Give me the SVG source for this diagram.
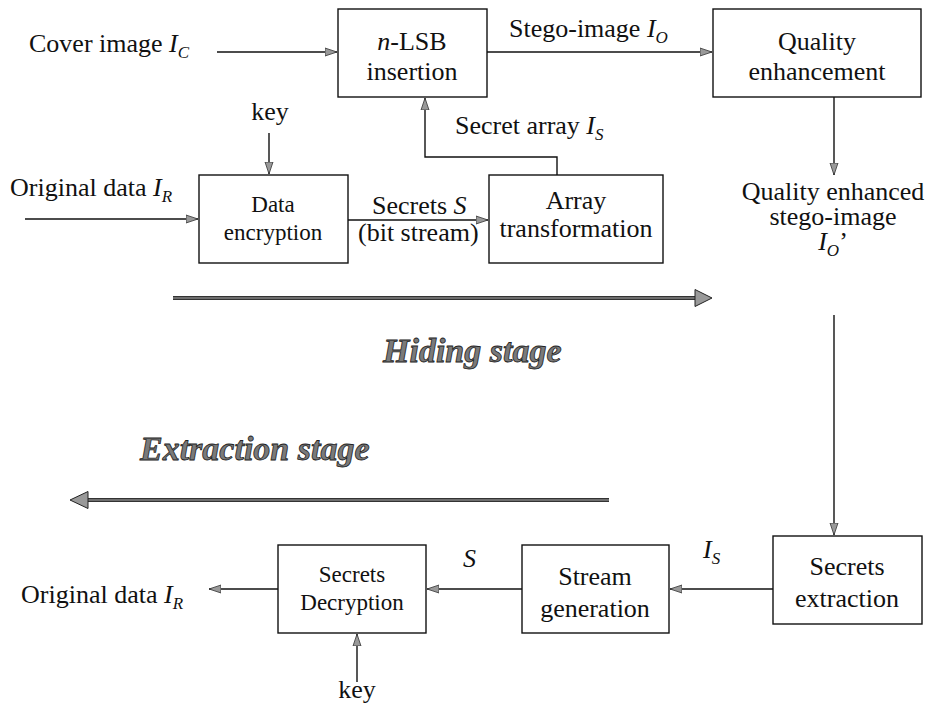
<svg xmlns="http://www.w3.org/2000/svg" width="928" height="706" viewBox="0 0 928 706">
<defs>
<style>
.t{font-family:"Liberation Serif","Times New Roman",serif;font-size:26px;fill:#111}
.sm{font-size:23px}
.it{font-style:italic}
.sub{font-size:17px;font-style:italic}
.stage{font-size:34px;font-weight:bold;font-style:italic;fill:#7a7a7a;stroke:#222;stroke-width:0.8}
.box{fill:#fff;stroke:#111;stroke-width:1.4}
.ln{fill:none;stroke:#111;stroke-width:1.4}
.big{fill:none;stroke:#333;stroke-width:4}
.bigin{fill:none;stroke:#aaa;stroke-width:1.2}
.bighead{fill:#999;stroke:#222;stroke-width:1}
</style>
<marker id="ah" viewBox="0 0 12 10" refX="12" refY="5" markerWidth="12" markerHeight="10" markerUnits="userSpaceOnUse" orient="auto">
<path d="M0,1 L12,5 L0,9 z" fill="#999" stroke="#333" stroke-width="0.8"/>
</marker>
</defs>
<rect width="928" height="706" fill="#fff"/>

<g id="connectors">
<path class="ln" d="M217,52 H337" marker-end="url(#ah)"/>
<path class="ln" d="M487,52 H712" marker-end="url(#ah)"/>
<path class="ln" d="M834,97 V175" marker-end="url(#ah)"/>
<path class="ln" d="M269,133 V174" marker-end="url(#ah)"/>
<path class="ln" d="M25,219 H198" marker-end="url(#ah)"/>
<path class="ln" d="M348,220 H488" marker-end="url(#ah)"/>
<path class="ln" d="M557,175 V157 H425 V98" marker-end="url(#ah)"/>
<path class="ln" d="M834,315 V535" marker-end="url(#ah)"/>
<path class="ln" d="M773,589 H670" marker-end="url(#ah)"/>
<path class="ln" d="M522,589 H427" marker-end="url(#ah)"/>
<path class="ln" d="M278,589 H209" marker-end="url(#ah)"/>
<path class="ln" d="M357,682 V634" marker-end="url(#ah)"/>
<path class="big" d="M173,298 H697"/>
<path class="bigin" d="M173,298 H697"/>
<polygon class="bighead" points="712,298 695,289.5 695,306.5"/>
<path class="big" d="M609,500 H86"/>
<path class="bigin" d="M609,500 H86"/>
<polygon class="bighead" points="70,500 88,491.5 88,508.5"/>
</g>

<g id="lsb">
<rect class="box" x="338" y="9" width="149" height="88"/>
<text class="t" x="412" y="50" text-anchor="middle"><tspan class="it">n</tspan>-LSB</text>
<text class="t" x="412" y="80" text-anchor="middle">insertion</text>
</g>
<g id="quality">
<rect class="box" x="713" y="9" width="208" height="88"/>
<text class="t" x="817" y="50" text-anchor="middle">Quality</text>
<text class="t" x="817" y="80" text-anchor="middle">enhancement</text>
</g>
<g id="encrypt">
<rect class="box" x="199" y="175" width="149" height="88"/>
<text class="t sm" x="273" y="212" text-anchor="middle">Data</text>
<text class="t sm" x="273" y="240" text-anchor="middle">encryption</text>
</g>
<g id="array">
<rect class="box" x="489" y="175" width="174" height="88"/>
<text class="t" x="576" y="209" text-anchor="middle">Array</text>
<text class="t" x="576" y="237" text-anchor="middle">transformation</text>
</g>
<g id="extract">
<rect class="box" x="773" y="536" width="149" height="88"/>
<text class="t" x="847" y="575" text-anchor="middle">Secrets</text>
<text class="t" x="847" y="607" text-anchor="middle">extraction</text>
</g>
<g id="stream">
<rect class="box" x="522" y="545" width="147" height="88"/>
<text class="t" x="595" y="585" text-anchor="middle">Stream</text>
<text class="t" x="595" y="617" text-anchor="middle">generation</text>
</g>
<g id="decrypt">
<rect class="box" x="278" y="545" width="148" height="88"/>
<text class="t sm" x="352" y="582" text-anchor="middle">Secrets</text>
<text class="t sm" x="352" y="610" text-anchor="middle">Decryption</text>
</g>

<g id="labels">
<text class="t" x="29" y="52">Cover image <tspan class="it">I</tspan><tspan class="sub" dy="6">C</tspan></text>
<text class="t" x="509" y="37">Stego-image <tspan class="it">I</tspan><tspan class="sub" dy="6">O</tspan></text>
<text class="t" x="270" y="120" text-anchor="middle">key</text>
<text class="t" x="455" y="134">Secret array <tspan class="it">I</tspan><tspan class="sub" dy="6">S</tspan></text>
<text class="t" x="10" y="196">Original data <tspan class="it">I</tspan><tspan class="sub" dy="6">R</tspan></text>
<text class="t" x="372" y="214">Secrets <tspan class="it">S</tspan></text>
<text class="t" x="358" y="241">(bit stream)</text>
<text class="t" x="833" y="200" text-anchor="middle">Quality enhanced</text>
<text class="t" x="833" y="225" text-anchor="middle">stego-image</text>
<text class="t" x="833" y="250" text-anchor="middle"><tspan class="it">I</tspan><tspan class="sub" dy="6">O</tspan><tspan dy="-6">’</tspan></text>
<text class="t stage" x="383" y="362">Hiding stage</text>
<text class="t stage" x="140" y="460">Extraction stage</text>
<text class="t" x="703" y="558"><tspan class="it">I</tspan><tspan class="sub" dy="6">S</tspan></text>
<text class="t it" x="463" y="567">S</text>
<text class="t" x="21" y="603">Original data <tspan class="it">I</tspan><tspan class="sub" dy="6">R</tspan></text>
<text class="t" x="357" y="698" text-anchor="middle">key</text>
</g>
</svg>
